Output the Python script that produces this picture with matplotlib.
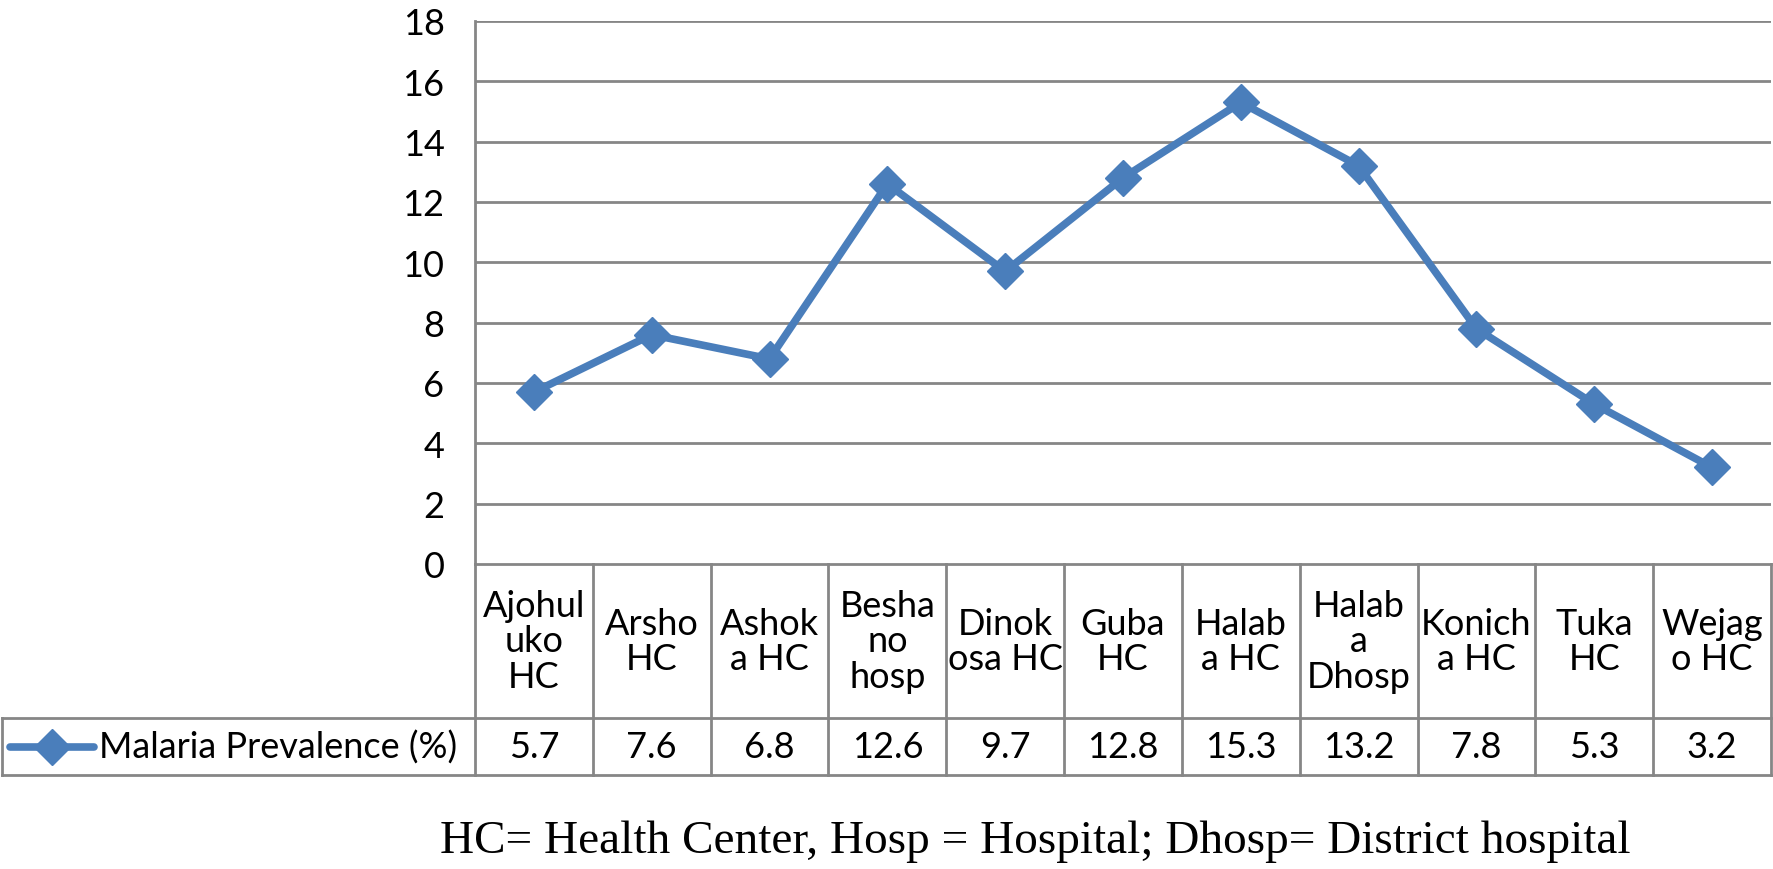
import matplotlib
matplotlib.use("Agg")
import matplotlib.pyplot as plt
from matplotlib.lines import Line2D

categories = ["Ajohul\nuko\nHC", "Arsho\nHC", "Ashok\na HC", "Besha\nno\nhosp",
              "Dinok\nosa HC", "Guba\nHC", "Halab\na HC", "Halab\na\nDhosp",
              "Konich\na HC", "Tuka\nHC", "Wejag\no HC"]
values = [5.7, 7.6, 6.8, 12.6, 9.7, 12.8, 15.3, 13.2, 7.8, 5.3, 3.2]
value_labels = ["5.7", "7.6", "6.8", "12.6", "9.7", "12.8", "15.3", "13.2", "7.8", "5.3", "3.2"]
yticks = [0, 2, 4, 6, 8, 10, 12, 14, 16, 18]
series_name = "Malaria Prevalence (%)"
footnote = "HC= Health Center, Hosp = Hospital; Dhosp= District hospital"

W, H = 1773, 870
fig = plt.figure(figsize=(W / 100, H / 100), dpi=100)
FONT = "Lato"
FS = 26
BLUE = "#4A7EBB"
GRID = "#868686"

x_left, x_right = 475, 1771
y_top, y_zero = 22, 565
y_row, y_bot = 719, 776

ax = fig.add_axes([x_left / W, 1 - y_zero / H, (x_right - x_left) / W, (y_zero - y_top) / H])
xs = list(range(len(values)))
ax.plot(xs, values, color=BLUE, lw=5.5, marker="D", ms=18, mfc=BLUE, mec=BLUE, zorder=5,
        solid_joinstyle="round", clip_on=False)
ax.set_xlim(-0.5, len(values) - 0.5)
ax.set_ylim(0, 18)
ax.set_yticks(yticks)
ax.set_yticklabels([str(t) for t in yticks], fontfamily=FONT, fontsize=FS)
ax.tick_params(axis="y", length=0, pad=22)
ax.set_xticks([])
for t in yticks[1:]:
    ax.axhline(t, color=GRID, lw=2, zorder=1)
for s in ["top", "right", "bottom"]:
    ax.spines[s].set_visible(False)
ax.spines["left"].set_color(GRID)
ax.spines["left"].set_linewidth(2)

# table axes below
tax = fig.add_axes([x_left / W, 1 - y_bot / H, (x_right - x_left) / W, (y_bot - y_zero) / H])
tax.set_xlim(-0.5, len(values) - 0.5)
tax.set_ylim(0, y_bot - y_zero)
tax.axis("off")
row_h = y_bot - y_row
top_h = y_bot - y_zero
n = len(values)
tax.plot([-0.5, n - 0.5], [top_h, top_h], color=GRID, lw=2, clip_on=False)
for k in range(n + 1):
    tax.plot([-0.5 + k, -0.5 + k], [0, top_h], color=GRID, lw=2, clip_on=False)

ftrans = fig.transFigure
lx0 = 2 / W
for yy in [y_row, y_bot]:
    fig.add_artist(Line2D([lx0, x_right / W], [1 - yy / H, 1 - yy / H], color=GRID, lw=2,
                          transform=ftrans))
fig.add_artist(Line2D([lx0, lx0], [1 - y_bot / H, 1 - y_row / H], color=GRID, lw=2,
                      transform=ftrans))

for i in range(n):
    tax.text(i, (row_h + top_h) / 2, categories[i], ha="center", va="center",
             fontfamily=FONT, fontsize=FS, linespacing=1.1)
    tax.text(i, row_h / 2, value_labels[i], ha="center", va="center",
             fontfamily=FONT, fontsize=FS)

ly = 1 - (y_row + y_bot) / 2 / H
fig.add_artist(Line2D([10 / W, 94 / W], [ly, ly], color=BLUE, lw=5.5, solid_capstyle="round",
                      transform=ftrans))
fig.add_artist(Line2D([52 / W], [ly], color=BLUE, marker="D", ms=18, transform=ftrans))
fig.text(99 / W, ly, series_name, ha="left", va="center", fontfamily=FONT, fontsize=FS)

fig.text(1035 / W, 1 - 842 / H, footnote, ha="center", va="center",
         fontfamily="Liberation Serif", fontsize=34)

fig.savefig("out.png", dpi=100, facecolor="white")
